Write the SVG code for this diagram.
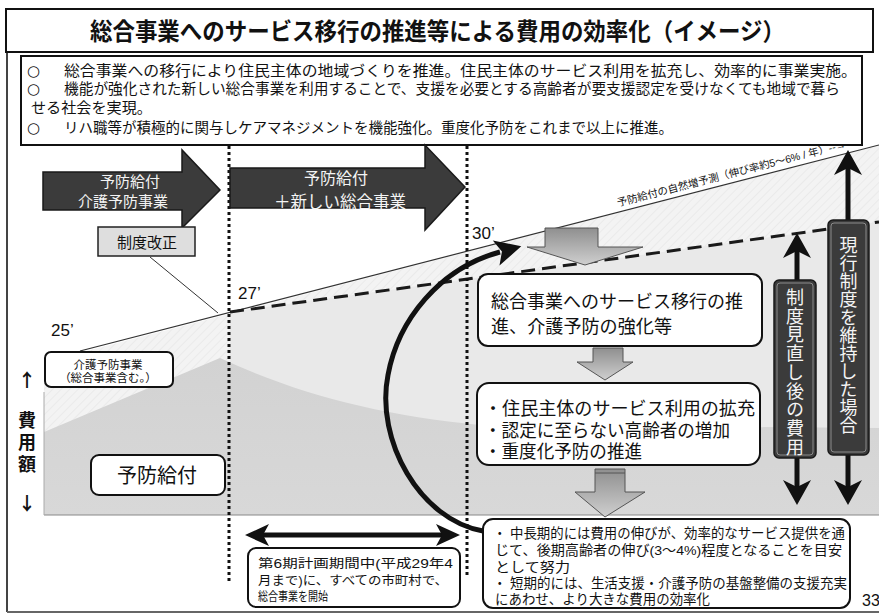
<svg xmlns="http://www.w3.org/2000/svg" width="879" height="615" viewBox="0 0 879 615">
<style>
text{font-family:"Liberation Sans","Noto Sans CJK JP",sans-serif;fill:#111}
.cjk{font-family:"Noto Sans CJK JP",sans-serif}
.circ{font-family:"DejaVu Sans",sans-serif}
.box{fill:#fff;stroke:#111;stroke-width:2}
.dark{fill:#3b3b3b;stroke:#1a1a1a;stroke-width:1.5}
.darkin{fill:none;stroke:#8c8c8c;stroke-width:1}
.wt{fill:#f4f4f4}
.vt{writing-mode:vertical-rl;font-family:"Noto Sans CJK JP",sans-serif;fill:#f4f4f4}
.garrow{fill:url(#gg);stroke:#555;stroke-width:1}
.stem{stroke:#111;stroke-width:5;fill:none}
.head{fill:#111}
.dots{stroke:#111;stroke-width:3;stroke-dasharray:3 3;fill:none}
</style>
<defs>
<linearGradient id="gg" x1="0" y1="0" x2="0" y2="1">
<stop offset="0" stop-color="#8f8f8f"/>
<stop offset="1" stop-color="#cfcfcf"/>
</linearGradient>
<linearGradient id="mt" x1="0" y1="0" x2="0" y2="1">
<stop offset="0" stop-color="#d2d2d2"/>
<stop offset="1" stop-color="#d8d8d8"/>
</linearGradient>
<pattern id="hatch" width="6" height="6" patternUnits="userSpaceOnUse" patternTransform="rotate(45)">
<rect width="6" height="6" fill="#f3f3f3"/>
<line x1="0" y1="0" x2="0" y2="6" stroke="#e2e2e2" stroke-width="1"/>
</pattern>
<marker id="barb" markerUnits="userSpaceOnUse" markerWidth="40" markerHeight="40" refX="0" refY="0" orient="auto" overflow="visible">
<path d="M-4,-13 L22,0 L-4,13 L2,0 Z" fill="#111"/>
</marker>
<marker id="barb2" markerUnits="userSpaceOnUse" markerWidth="40" markerHeight="40" refX="0" refY="0" orient="auto-start-reverse" overflow="visible">
<path d="M-6,-11 L18,0 L-6,11 L0,0 Z" fill="#111"/>
</marker>
</defs>

<rect width="879" height="615" fill="#fff"/>

<!-- frame -->
<g id="frame">
<line x1="7" y1="52" x2="7" y2="612" stroke="#444" stroke-width="2"/>
<line x1="7" y1="612" x2="879" y2="612" stroke="#666" stroke-width="2"/>
</g>

<!-- title -->
<g id="title">
<rect x="6" y="9" width="867" height="43" class="box"/>
<text x="90" y="40" font-size="24" font-weight="bold" textLength="695" lengthAdjust="spacingAndGlyphs">総合事業へのサービス移行の推進等による費用の効率化（イメージ）</text>
</g>

<!-- bullets -->
<g id="bullets">
<rect x="21" y="56" width="841" height="89" class="box"/>
<text x="27" y="76" font-size="15" class="circ">○</text>
<text x="64" y="76" font-size="14.5" textLength="793" lengthAdjust="spacingAndGlyphs">総合事業への移行により住民主体の地域づくりを推進。住民主体のサービス利用を拡充し、効率的に事業実施。</text>
<text x="27" y="94" font-size="15" class="circ">○</text>
<text x="64" y="94" font-size="14.5" textLength="776" lengthAdjust="spacingAndGlyphs">機能が強化された新しい総合事業を利用することで、支援を必要とする高齢者が要支援認定を受けなくても地域で暮ら</text>
<text x="31" y="113" font-size="14.5" textLength="121" lengthAdjust="spacingAndGlyphs">せる社会を実現。</text>
<text x="27" y="133" font-size="15" class="circ">○</text>
<text x="64" y="133" font-size="14.5" textLength="609" lengthAdjust="spacingAndGlyphs">リハ職等が積極的に関与しケアマネジメントを機能強化。重度化予防をこれまで以上に推進。</text>
</g>

<!-- chart background -->
<g id="chart-area">
<polygon points="44,362 879,145 879,515 44,515" fill="url(#hatch)"/>
<polygon points="230,312 879,222 879,515 230,515" fill="#e9e9e9"/>
<path d="M44,432 L220,358 C300,395 380,415 480,425 L879,428 L879,515 L44,515 Z" fill="url(#mt)"/>
<line x1="44" y1="515" x2="879" y2="515" stroke="#888" stroke-width="1"/>
<line x1="44" y1="392" x2="44" y2="515" stroke="#aaa" stroke-width="1"/>
</g>

<!-- connectors -->
<g id="connectors">
<path d="M80,351 L879,145" stroke="#333" stroke-width="1.2" fill="none"/>
<path d="M230,312 L879,222" stroke="#1a1a1a" stroke-width="3" stroke-dasharray="14 7" fill="none"/>
<line x1="229" y1="146" x2="229" y2="582" class="dots"/>
<line x1="467" y1="146" x2="467" y2="578" class="dots"/>
<line x1="150" y1="257" x2="218" y2="313" stroke="#333" stroke-width="1"/>
<path d="M483,531 C420,520 375,440 388,375 C398,320 440,268 500,252" class="stem" marker-end="url(#barb)"/>
<line x1="263" y1="535" x2="442" y2="535" class="stem" marker-start="url(#barb2)" marker-end="url(#barb2)"/>
<line x1="797" y1="249" x2="797" y2="281" class="stem"/>
<polygon points="797,233 811,258 797,251 783,258" class="head"/>
<line x1="797" y1="457" x2="797" y2="489" class="stem"/>
<polygon points="797,505 811,480 797,487 783,480" class="head"/>
<line x1="848" y1="165" x2="848" y2="221" class="stem"/>
<polygon points="848,150 862,175 848,168 834,175" class="head"/>
<line x1="848" y1="454" x2="848" y2="489" class="stem"/>
<polygon points="848,505 862,480 848,487 834,480" class="head"/>
</g>

<!-- phase arrows -->
<g id="phase1">
<path d="M43,172 L182,172 L182,150 L220,190 L182,228 L182,210 L43,210 Z" class="dark"/>
<text x="130" y="187" font-size="15" text-anchor="middle" class="wt">予防給付</text>
<text x="123" y="207" font-size="15" text-anchor="middle" class="wt">介護予防事業</text>
</g>
<g id="phase2">
<path d="M230,168 L425,168 L425,145 L465,187 L425,230 L425,208 L230,208 Z" class="dark"/>
<text x="336" y="184" font-size="16" text-anchor="middle" class="wt">予防給付</text>
<text x="340" y="208" font-size="16.5" text-anchor="middle" class="wt">＋新しい総合事業</text>
</g>

<g id="seido-kaisei">
<rect x="98" y="227" width="97" height="29" fill="#dedede" stroke="#222" stroke-width="1.5"/>
<text x="147" y="248" font-size="15" text-anchor="middle">制度改正</text>
</g>

<!-- year labels -->
<g id="years">
<text x="51" y="336" font-size="17">25’</text>
<text x="238" y="299" font-size="17">27’</text>
<text x="472" y="239" font-size="17">30’</text>
</g>

<text transform="translate(618,206.5) rotate(-14.46)" font-size="10.5" textLength="236" lengthAdjust="spacingAndGlyphs">予防給付の自然増予測（伸び率約5～6% / 年）--→</text>

<!-- axis label -->
<g id="axis">
<text x="27" y="387" font-size="18" font-weight="bold" text-anchor="middle" class="cjk">↑</text>
<text x="27" y="427" font-size="18" font-weight="bold" text-anchor="middle">費</text>
<text x="27" y="449" font-size="18" font-weight="bold" text-anchor="middle">用</text>
<text x="27" y="471" font-size="18" font-weight="bold" text-anchor="middle">額</text>
<text x="27" y="510" font-size="18" font-weight="bold" text-anchor="middle" class="cjk">↓</text>
</g>

<g id="kaigo-yobo">
<rect x="45" y="352" width="128" height="35" rx="6" class="box"/>
<text x="108" y="369" font-size="11.5" text-anchor="middle">介護予防事業</text>
<text x="108" y="382" font-size="11.5" text-anchor="middle">（総合事業含む。）</text>
</g>

<g id="yobo-kyufu">
<rect x="91" y="455" width="134" height="40" rx="8" class="box"/>
<text x="157" y="483" font-size="20" text-anchor="middle">予防給付</text>
</g>

<g id="period">
<rect x="248" y="548" width="212" height="59" rx="8" class="box"/>
<text x="258" y="568" font-size="12.5" textLength="195" lengthAdjust="spacingAndGlyphs">第6期計画期間中(平成29年4</text>
<text x="258" y="585" font-size="12.5" textLength="190" lengthAdjust="spacingAndGlyphs">月まで)に、すべての市町村で、</text>
<text x="258" y="601" font-size="12.5" textLength="70" lengthAdjust="spacingAndGlyphs">総合事業を開始</text>
</g>

<!-- gray down arrows -->
<g id="down30">
<path d="M545,228 L598,228 L598,247 L643,247 L585,265 L527,247 L545,247 Z" class="garrow"/>
</g>

<g id="box-a">
<rect x="478" y="274" width="284" height="72" rx="10" class="box"/>
<text x="491" y="308" font-size="18" textLength="252" lengthAdjust="spacingAndGlyphs">総合事業へのサービス移行の推</text>
<text x="491" y="333" font-size="18" textLength="181" lengthAdjust="spacingAndGlyphs">進、介護予防の強化等</text>
</g>

<g id="down1">
<path d="M593,348 L623,348 L623,362 L633,362 L605,380 L577,362 L593,362 Z" class="garrow"/>
</g>

<g id="box-b">
<rect x="477" y="383" width="283" height="82" rx="12" class="box"/>
<text x="484" y="415" font-size="18" textLength="271" lengthAdjust="spacingAndGlyphs">・住民主体のサービス利用の拡充</text>
<text x="484" y="437" font-size="18" textLength="246" lengthAdjust="spacingAndGlyphs">・認定に至らない高齢者の増加</text>
<text x="484" y="458" font-size="18" textLength="158" lengthAdjust="spacingAndGlyphs">・重度化予防の推進</text>
</g>

<g id="down2">
<path d="M595,469 L625,469 L625,492 L645,492 L605,517 L575,492 L595,492 Z" class="garrow"/>
<line x1="595" y1="473" x2="625" y2="473" stroke="#555" stroke-width="1"/>
</g>

<g id="box-c">
<rect x="483" y="519" width="367" height="89" rx="10" class="box"/>
<text x="493" y="538" font-size="13.5">・</text>
<text x="510" y="538" font-size="13.5" textLength="335" lengthAdjust="spacingAndGlyphs">中長期的には費用の伸びが、効率的なサービス提供を通</text>
<text x="495" y="555" font-size="13.5" textLength="347" lengthAdjust="spacingAndGlyphs">じて、後期高齢者の伸び(3～4%)程度となることを目安</text>
<text x="495" y="572" font-size="13.5" textLength="75" lengthAdjust="spacingAndGlyphs">として努力</text>
<text x="493" y="588" font-size="13.5">・</text>
<text x="510" y="588" font-size="13.5" textLength="337" lengthAdjust="spacingAndGlyphs">短期的には、生活支援・介護予防の基盤整備の支援充実</text>
<text x="495" y="604" font-size="13.5" textLength="215" lengthAdjust="spacingAndGlyphs">にあわせ、より大きな費用の効率化</text>
</g>

<g id="after-review">
<rect x="774" y="280" width="42" height="178" rx="5" class="dark"/>
<rect x="777" y="283" width="36" height="172" rx="3" class="darkin"/>
<text x="795" y="288" font-size="18" letter-spacing="0.75" class="vt">制度見直し後の費用</text>
</g>

<g id="current-system">
<rect x="828" y="220" width="41" height="235" rx="5" class="dark"/>
<rect x="831" y="223" width="35" height="229" rx="3" class="darkin"/>
<text x="848.5" y="236" font-size="18" class="vt">現行制度を維持した場合</text>
</g>

<text x="862" y="606" font-size="16">33</text>
</svg>
